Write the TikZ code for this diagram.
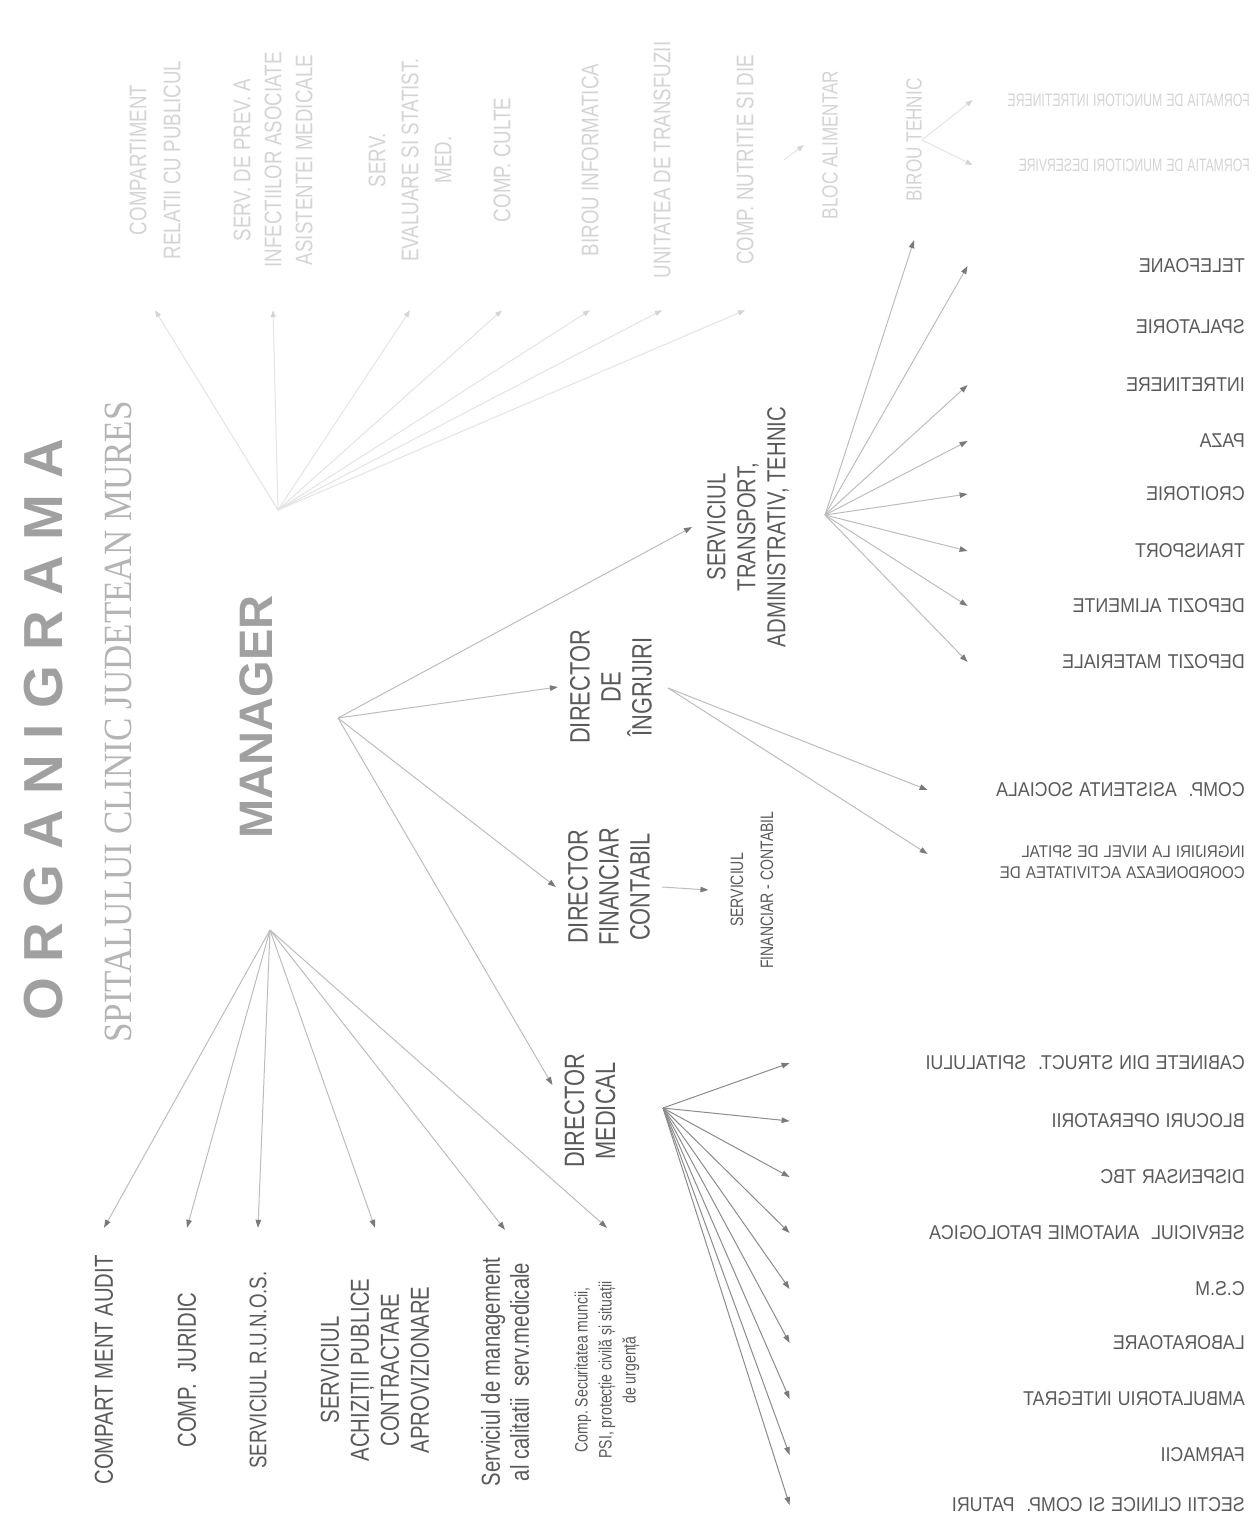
\documentclass[tikz,border=0pt]{standalone}
\usepackage{fontspec}
\usepackage{graphicx}
\setmainfont{Liberation Sans}
\newfontfamily\nar{Liberation Sans}[FakeStretch=0.78]
\newfontfamily\sernar{Liberation Serif}
\newfontfamily\ttlfont{Liberation Sans}[LetterSpace=28]
\usetikzlibrary{arrows.meta,calc}
\definecolor{txt}{HTML}{5A5A5A}
\definecolor{lne}{HTML}{BDBDBD}
\definecolor{tipc}{HTML}{7A7A7A}
\definecolor{dln}{HTML}{8C8C8C}
\definecolor{fade}{HTML}{D4D4D4}
\definecolor{fadeline}{HTML}{E4E4E4}
\definecolor{ttl}{HTML}{A0A0A0}
\definecolor{ttlb}{HTML}{B4B4B4}
\newcommand\mirr[1]{\scalebox{-0.89}[1]{#1}}
\newcommand\mirrn[1]{\scalebox{-0.68}[1]{#1}}
\tikzset{
  vbase/.style={rotate=90, align=center, inner sep=0pt},
  lcol/.style={vbase, text=txt, minimum width=284pt},
  tcol/.style={vbase, text=fade, font=\nar\fontsize{24}{32}\selectfont, minimum width=300pt},
  dirn/.style={vbase, text=txt, font=\nar\fontsize{28}{31}\selectfont, inner ysep=12pt},
  mlist/.style={anchor=east, align=right, text=txt, font=\fontsize{20}{24}\selectfont, inner xsep=2pt, inner ysep=1pt},
  arr/.style={draw=lne, line width=1pt, -{Triangle[length=8pt,width=5.5pt,color=tipc]}},
  darr/.style={draw=dln, line width=1pt, -{Triangle[length=8pt,width=5.5pt,color=tipc]}},
  farr/.style={draw=fadeline, line width=1pt, -{Triangle[length=7pt,width=5pt,color=fade]}}
}
\begin{document}
\begin{tikzpicture}[x=1pt,y=-1pt]
\useasboundingbox (0,0) rectangle (1256,1530);
\fill[white] (0,0) rectangle (1256,1530);

% titles
\node[rotate=90, font=\ttlfont\bfseries\fontsize{55}{60}\selectfont, text=ttl] (title) at (44,730) {ORGANIGRAMA};
\node[rotate=90, font=\sernar\fontsize{40}{44}\selectfont, text=ttlb] (sub) at (118,722) {\scalebox{0.875}[1]{SPITALULUI CLINIC JUDETEAN MURES}};
\node[rotate=90, font=\bfseries\fontsize{47}{50}\selectfont, text=ttl] (mgr) at (256,717) {MANAGER};

% hubs
\coordinate (hubT) at (278,510);
\coordinate (hubB) at (270,930);
\coordinate (hubR) at (338,718);
\coordinate (hubD) at (668,688);
\coordinate (hubM) at (663,1108);
\coordinate (hubS) at (825,515);

% bottom-left column
\node[lcol, font=\nar\fontsize{26}{30}\selectfont] (audit) at (104,1370) {COMPART MENT AUDIT};
\node[lcol, font=\nar\fontsize{26}{30}\selectfont] (jur) at (187,1370) {COMP.\ \ JURIDIC};
\node[lcol, font=\nar\fontsize{24}{30}\selectfont] (runos) at (258,1370) {SERVICIUL R.U.N.O.S.};
\node[lcol, font=\nar\fontsize{26}{30}\selectfont] (achiz) at (375,1370) {SERVICIUL\\ACHIZIȚII PUBLICE\\CONTRACTARE\\APROVIZIONARE};
\node[lcol, font=\nar\fontsize{26}{29}\selectfont] (calit) at (505,1372) {Serviciul de management\\al calitatii\ \ serv.medicale};
\node[lcol, font=\nar\fontsize{18}{24}\selectfont] (secur) at (607,1370) {Comp.\ Securitatea muncii,\\PSI, protecție civilă și situații\\de urgență};

\foreach \n in {audit,jur,runos,achiz,calit,secur}
  \draw[arr] (hubB) -- (\n.east);

% top (faded) column
\node[tcol, font=\nar\fontsize{24}{34}\selectfont] (comprel) at (155,160) {COMPARTIMENT\\RELATII CU PUBLICUL};
\node[tcol, font=\nar\fontsize{24}{31}\selectfont] (sprev) at (273,160) {SERV.\ DE PREV.\ A\\INFECTIILOR ASOCIATE\\ASISTENTEI MEDICALE};
\node[tcol, font=\nar\fontsize{24}{33}\selectfont] (seval) at (410,160) {SERV.\\EVALUARE SI STATIST.\\MED.};
\node[tcol] (culte) at (502,160) {COMP.\ CULTE};
\node[tcol] (binf) at (590,160) {BIROU INFORMATICA};
\node[tcol] (utrans) at (662,160) {UNITATEA DE TRANSFUZII};
\node[tcol] (cnutr) at (745,160) {COMP.\ NUTRITIE SI DIE};
\node[vbase, text=fade, font=\nar\fontsize{22}{30}\selectfont] (bloc) at (830,145) {BLOC ALIMENTAR};
\node[vbase, text=fade, font=\nar\fontsize{22}{30}\selectfont, minimum width=200pt] (btehnic) at (914,140) {BIROU TEHNIC};

\foreach \n in {comprel,sprev,seval,culte,binf,utrans,cnutr}
  \draw[farr] (hubT) -- (\n.west);
\draw[farr] ([xshift=30pt]cnutr.south) -- ([xshift=-18pt]bloc.north);

% managers' directors
\node[dirn] (ding) at (611,687) {DIRECTOR\\DE\\ÎNGRIJIRI};
\node[dirn] (dfin) at (609,887) {DIRECTOR\\FINANCIAR\\CONTABIL};
\node[dirn] (dmed) at (590,1111) {DIRECTOR\\MEDICAL};
\node[vbase, text=txt, font=\nar\fontsize{26}{30}\selectfont, inner ysep=15pt] (strans) at (748,527) {SERVICIUL\\TRANSPORT,\\ADMINISTRATIV, TEHNIC};
\node[vbase, text=txt, font=\nar\fontsize{18}{30}\selectfont, inner ysep=22pt] (sfc) at (752,890) {SERVICIUL\\FINANCIAR - CONTABIL};

\draw[arr] (hubR) -- (strans.north);
\draw[arr] (hubR) -- (ding.north);
\draw[arr] (hubR) -- (dfin.north);
\draw[arr] (hubR) -- ([yshift=26pt]dmed.north);
\draw[arr] (dfin.south) -- (sfc.north);

% transport / administrative list (mirrored)
\node[mlist, text width=275pt] (telef) at (1247,266) {\mirr{TELEFOANE}};
\node[mlist, text width=275pt] (spal) at (1247,327) {\mirr{SPALATORIE}};
\node[mlist, text width=275pt] (intret) at (1247,385) {\mirr{INTRETINERE}};
\node[mlist, text width=275pt] (paza) at (1247,441) {\mirr{PAZA}};
\node[mlist, text width=275pt] (croit) at (1247,494) {\mirr{CROITORIE}};
\node[mlist, text width=275pt] (transp) at (1247,551) {\mirr{TRANSPORT}};
\node[mlist, text width=275pt] (dalim) at (1247,606) {\mirr{DEPOZIT ALIMENTE}};
\node[mlist, text width=275pt] (dmat) at (1247,662) {\mirr{DEPOZIT MATERIALE}};
\foreach \n in {telef,intret,paza,croit,transp,dalim,dmat}
  \draw[arr] (hubS) -- (\n.west);
\draw[arr] (hubS) -- (btehnic.west);

% biroul tehnic sub-items (faded, mirrored)
\node[mlist, text=fade, font=\fontsize{18}{22}\selectfont, text width=275pt] (form1) at (1252,100) {\mirrn{FORMATIA DE MUNCITORI INTRETINERE}};
\node[mlist, text=fade, font=\fontsize{18}{22}\selectfont, text width=275pt] (form2) at (1252,165) {\mirrn{FORMATIA DE MUNCITORI DESERVIRE}};
\draw[farr] (btehnic.south) -- (form1.west);
\draw[farr] (btehnic.south) -- (form2.west);

% director de ingrijiri list
\node[mlist, text width=315pt] (asist) at (1247,790) {\mirr{COMP.\ \ ASISTENTA SOCIALA}};
\node[mlist, font=\fontsize{17}{21}\selectfont, text width=315pt] (coord) at (1247,862) {\mirr{INGRIJIRI LA NIVEL DE SPITAL}\\\mirr{COORDONEAZA ACTIVITATEA DE}};
\draw[arr] (hubD) -- (asist.west);
\draw[arr] (hubD) -- ([yshift=8pt]coord.west);

% director medical list
\node[mlist, text width=453pt] (cab) at (1247,1063) {\mirr{CABINETE DIN STRUCT.\ \ SPITALULUI}};
\node[mlist, text width=453pt] (bloop) at (1247,1121) {\mirr{BLOCURI OPERATORII}};
\node[mlist, text width=453pt] (disp) at (1247,1177) {\mirr{DISPENSAR TBC}};
\node[mlist, text width=453pt] (anat) at (1247,1233) {\mirr{SERVICIUL\ \ ANATOMIE PATOLOGICA}};
\node[mlist, text width=453pt] (csm) at (1247,1289) {\mirr{C.S.M}};
\node[mlist, text width=453pt] (lab) at (1247,1343) {\mirr{LABORATOARE}};
\node[mlist, text width=453pt] (amb) at (1247,1399) {\mirr{AMBULATORIU INTEGRAT}};
\node[mlist, text width=453pt] (farm) at (1247,1455) {\mirr{FARMACII}};
\node[mlist, text width=453pt] (sect) at (1247,1505) {\mirr{SECTII CLINICE SI COMP.\ \ PATURI}};
\foreach \n in {cab,bloop,disp,anat,csm,lab,amb,farm,sect}
  \draw[darr] (hubM) -- (\n.west);
\end{tikzpicture}
\end{document}
